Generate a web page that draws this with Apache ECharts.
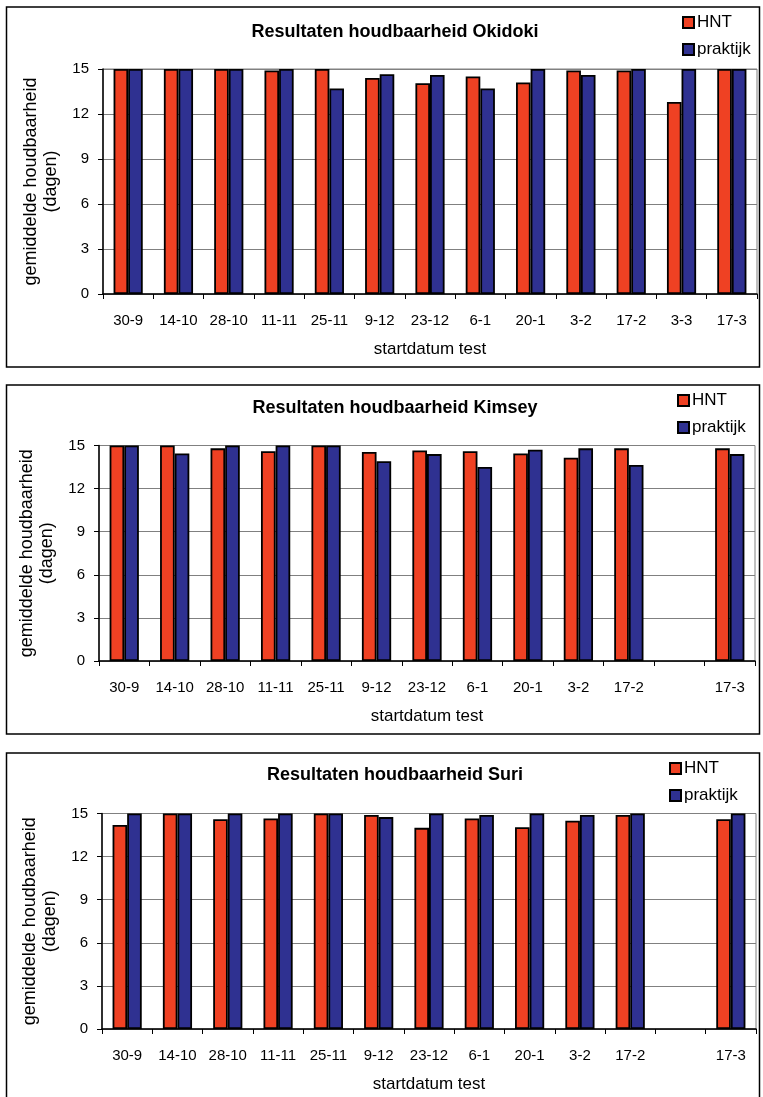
<!DOCTYPE html>
<html><head><meta charset="utf-8">
<script src="https://cdn.jsdelivr.net/npm/echarts@6/dist/echarts.min.js"></script>
<style>html,body{margin:0;padding:0;background:#fff}#c{width:763px;height:1097px}</style>
</head><body><div id="c"></div>
<script>
const categoriesAll = ['30-9','14-10','28-10','11-11','25-11','9-12','23-12','6-1','20-1','3-2','17-2','3-3','17-3'];
const categoriesPart = ['30-9','14-10','28-10','11-11','25-11','9-12','23-12','6-1','20-1','3-2','17-2','','17-3'];
const yTicks = [0,3,6,9,12,15];
const titles = ['Resultaten houdbaarheid Okidoki','Resultaten houdbaarheid Kimsey','Resultaten houdbaarheid Suri'];
const okidokiHNT      = [15,15,15,14.9,15,14.4,14.05,14.5,14.1,14.9,14.9,12.8,15];
const okidokiPraktijk = [15,15,15,15,13.7,14.65,14.6,13.7,15,14.6,15,15,15];
const kimseyHNT       = [15,15,14.8,14.6,15,14.55,14.65,14.6,14.45,14.15,14.8,null,14.8];
const kimseyPraktijk  = [15,14.45,15,15,15,13.9,14.4,13.5,14.7,14.8,13.65,null,14.4];
const suriHNT         = [14.2,15,14.6,14.65,15,14.9,14.0,14.65,14.05,14.5,14.9,null,14.6];
const suriPraktijk    = [15,15,15,15,15,14.75,15,14.9,15,14.9,15,null,15];

const FONT = 'Liberation Sans, Arial, sans-serif';
const RED = '#EF4123', BLUE = '#2F3191';
const panels = [
  {top:7, bottom:367, gridTop:69, gridH:225, left:103, right:6, cats:categoriesAll, hnt:okidokiHNT, pr:okidokiPraktijk, legLeft:677},
  {top:385, bottom:734, gridTop:445.5, gridH:215.5, left:99, right:8, cats:categoriesPart, hnt:kimseyHNT, pr:kimseyPraktijk, legLeft:672},
  {top:753, bottom:1115, gridTop:813.5, gridH:215.5, left:102, right:7, cats:categoriesPart, hnt:suriHNT, pr:suriPraktijk, legLeft:664}
];
const titleCenters = [31, 407, 774];

const option = {
  animation:false,
  textStyle:{fontFamily:FONT},
  graphic: panels.map(p=>({type:'rect', shape:{x:6.5,y:p.top,width:753,height:p.bottom-p.top}, style:{fill:'none',stroke:'#000',lineWidth:1.5}, z:-1})),
  title: panels.map((p,i)=>({text:titles[i], left:390, textAlign:'center', top:titleCenters[i]-13, textStyle:{fontFamily:FONT,fontSize:18,fontWeight:'bold',color:'#000'}})),
  legend: panels.map(p=>({data:['HNT','praktijk'], orient:'vertical', left:p.legLeft, top:p.top+2, icon:'rect', itemWidth:11, itemHeight:11, itemGap:10, textStyle:{fontFamily:FONT,fontSize:17,color:'#000',padding:[0,0,0,-2]}})),
  grid: panels.map(p=>({left:p.left, right:p.right, top:p.gridTop, height:p.gridH, show:true, borderColor:'#808080', borderWidth:1, containLabel:false})),
  xAxis: panels.map((p,i)=>({type:'category', gridIndex:i, data:p.cats, name:'startdatum test', nameLocation:'middle', nameGap:47,
    nameTextStyle:{fontFamily:FONT,fontSize:17,color:'#000'},
    axisLine:{lineStyle:{color:'#000',width:1.5}}, axisTick:{show:true,length:5,lineStyle:{color:'#000'}},
    axisLabel:{fontFamily:FONT,fontSize:15,color:'#000',margin:19,interval:0}})),
  yAxis: panels.map((p,i)=>({type:'value', gridIndex:i, min:yTicks[0], max:yTicks[yTicks.length-1], interval:3,
    name:'gemiddelde houdbaarheid\n(dagen)', nameLocation:'middle', nameGap:36, nameRotate:90,
    nameTextStyle:{fontFamily:FONT,fontSize:18,color:'#000',lineHeight:20},
    axisLine:{show:true,lineStyle:{color:'#000',width:1.5}}, axisTick:{show:true,length:5,lineStyle:{color:'#000'}},
    axisLabel:{fontFamily:FONT,fontSize:15,color:'#000',margin:14},
    splitLine:{show:true,lineStyle:{color:'#808080',width:1}}})),
  series: []
};
panels.forEach((p,i)=>{
  option.series.push({name:'HNT', type:'bar', xAxisIndex:i, yAxisIndex:i, data:p.hnt, barGap:'0%', barCategoryGap:'42%',
    itemStyle:{color:RED,borderColor:'#000',borderWidth:1.8}});
  option.series.push({name:'praktijk', type:'bar', xAxisIndex:i, yAxisIndex:i, data:p.pr, barGap:'0%', barCategoryGap:'42%',
    itemStyle:{color:BLUE,borderColor:'#000',borderWidth:1.8}});
});
const chart = echarts.init(document.getElementById('c'), null, {renderer:'canvas'});
chart.setOption(option);
</script></body></html>
